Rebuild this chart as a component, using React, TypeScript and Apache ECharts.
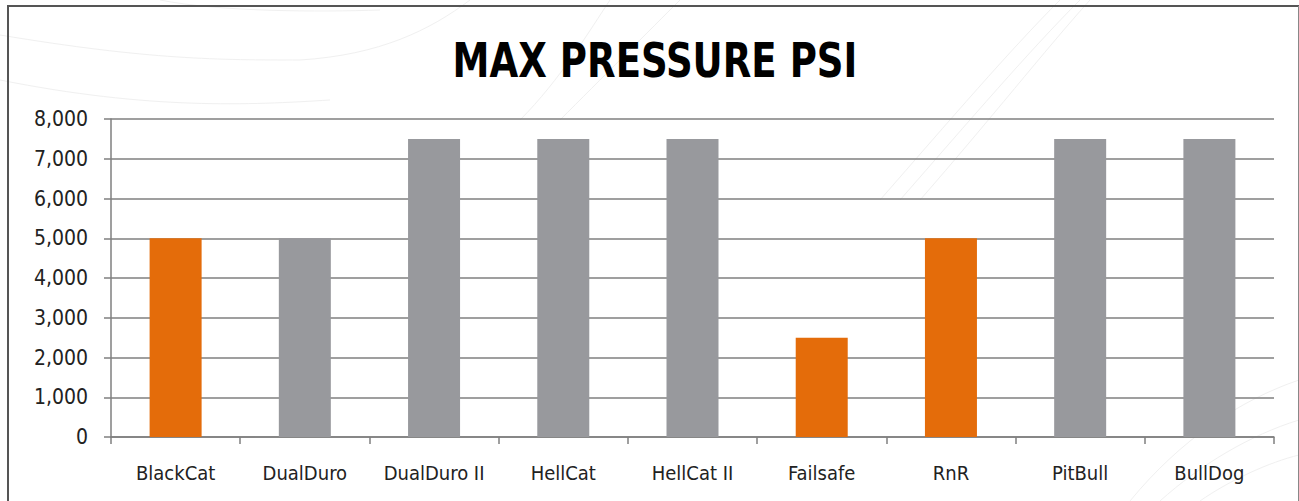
import React, { useEffect, useRef } from "react";
import * as echarts from "echarts";

const categories = ["BlackCat", "DualDuro", "DualDuro II", "HellCat", "HellCat II", "Failsafe", "RnR", "PitBull", "BullDog"];
const values = [5000, 5000, 7500, 7500, 7500, 2500, 5000, 7500, 7500];
const isOrange = [true, false, false, false, false, true, true, false, false];
const yMin = 0;
const yMax = 8000;
const yInterval = 1000;
const title = "MAX PRESSURE PSI";

const ORANGE = "#E46C0A";
const GRAY = "#98999D";

export default function App() {
  const ref = useRef<HTMLDivElement>(null);
  useEffect(() => {
    document.body.style.margin = "0";
    if (!ref.current) return;
    const chart = echarts.init(ref.current, null, { renderer: "svg" });
    const faint = { stroke: "#f0f0f0", lineWidth: 1, fill: null };
    const curves: any[] = [
      { x1: 0, y1: 35, x2: 300, y2: 60, cpx1: 150, cpy1: 60, cpx2: 220, cpy2: 60 },
      { x1: 0, y1: 80, x2: 330, y2: 100, cpx1: 150, cpy1: 110, cpx2: 250, cpy2: 105 },
      { x1: 160, y1: 0, x2: 380, y2: 10, cpx1: 220, cpy1: 12, cpx2: 320, cpy2: 12 },
      { x1: 300, y1: 60, x2: 470, y2: 0, cpx1: 380, cpy1: 55, cpx2: 430, cpy2: 30 },
      { x1: 520, y1: 120, x2: 610, y2: 0, cpx1: 560, cpy1: 80, cpx2: 590, cpy2: 30 },
      { x1: 560, y1: 120, x2: 680, y2: 0, cpx1: 600, cpy1: 80, cpx2: 650, cpy2: 30 },
      { x1: 880, y1: 200, x2: 1060, y2: 0, cpx1: 950, cpy1: 120, cpx2: 1010, cpy2: 50 },
      { x1: 900, y1: 200, x2: 1080, y2: 0, cpx1: 970, cpy1: 120, cpx2: 1030, cpy2: 50 },
      { x1: 920, y1: 200, x2: 1090, y2: 0, cpx1: 990, cpy1: 120, cpx2: 1045, cpy2: 50 },
      { x1: 1130, y1: 501, x2: 1299, y2: 380, cpx1: 1180, cpy1: 440, cpx2: 1240, cpy2: 400 },
      { x1: 1160, y1: 501, x2: 1299, y2: 420, cpx1: 1200, cpy1: 465, cpx2: 1250, cpy2: 435 },
      { x1: 1200, y1: 501, x2: 1299, y2: 455, cpx1: 1230, cpy1: 480, cpx2: 1270, cpy2: 462 },
    ];
    chart.setOption({
      animation: false,
      backgroundColor: "#ffffff",
      graphic: [
        ...curves.map((c) => ({ type: "bezierCurve", silent: true, z: -10, shape: c, style: faint })),
        { type: "line", silent: true, shape: { x1: 8, y1: 6, x2: 1299, y2: 6 }, style: { stroke: "#555555", lineWidth: 2 } },
        { type: "line", silent: true, shape: { x1: 8, y1: 5, x2: 8, y2: 501 }, style: { stroke: "#555555", lineWidth: 2 } },
        { type: "line", silent: true, shape: { x1: 1298.5, y1: 6, x2: 1298.5, y2: 501 }, style: { stroke: "#888888", lineWidth: 1 } },
        {
          type: "text",
          silent: true,
          x: 655,
          y: 60,
          scaleX: 0.86,
          style: {
            text: title,
            x: 0,
            y: 0,
            align: "center",
            verticalAlign: "middle",
            fontFamily: "'DejaVu Sans Condensed', sans-serif",
            fontWeight: "bold",
            fontSize: 48,
            fill: "#000000",
          },
        },
      ],
      grid: { left: 111, right: 25, top: 119, bottom: 64, containLabel: false },
      xAxis: {
        type: "category",
        data: categories,
        axisLine: { show: true, lineStyle: { color: "#7f7f7f", width: 1.5 } },
        axisTick: { show: true, interval: 0, length: 7, alignWithLabel: false, lineStyle: { color: "#7f7f7f", width: 1.5 } },
        axisLabel: {
          interval: 0,
          margin: 26,
          fontFamily: "'DejaVu Sans Condensed', sans-serif",
          fontSize: 20,
          color: "#222222",
        },
      },
      yAxis: {
        type: "value",
        min: yMin,
        max: yMax,
        interval: yInterval,
        axisLine: { show: true, lineStyle: { color: "#7f7f7f", width: 1.5 } },
        axisTick: { show: true, length: 7, lineStyle: { color: "#7f7f7f", width: 1.5 } },
        splitLine: { show: true, lineStyle: { color: "#7f7f7f", width: 1.5 } },
        axisLabel: {
          margin: 23,
          fontFamily: "'DejaVu Sans Condensed', sans-serif",
          fontSize: 21,
          color: "#222222",
          formatter: (v: number) => v.toLocaleString("en-US"),
        },
      },
      series: [
        {
          type: "bar",
          barWidth: 52,
          data: values.map((v, i) => ({ value: v, itemStyle: { color: isOrange[i] ? ORANGE : GRAY } })),
        },
      ],
    });
    return () => chart.dispose();
  }, []);
  return <div ref={ref} style={{ width: 1299, height: 501 }} />;
}
